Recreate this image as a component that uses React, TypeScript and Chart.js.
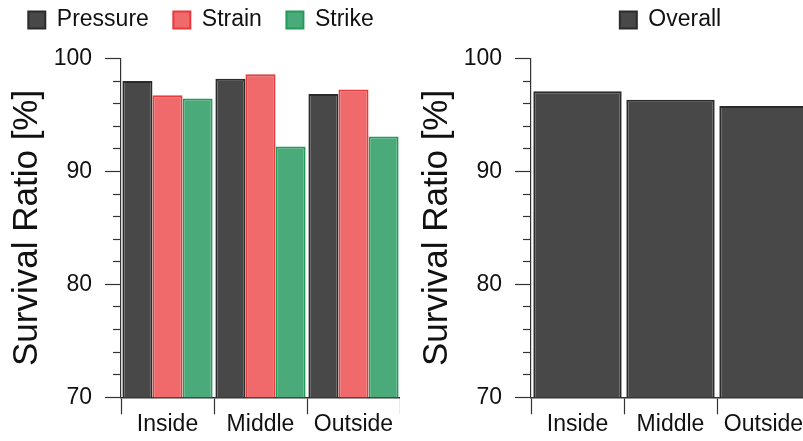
import React, { useEffect, useRef } from 'react';
import { Chart, registerables } from 'chart.js';

Chart.register(...registerables);

const categories = ['Inside', 'Middle', 'Outside'];
const pressure = [98.0, 98.2, 96.85];
const strain = [96.75, 98.6, 97.25];
const strike = [96.45, 92.2, 93.1];
const overall = [97.1, 96.35, 95.8];
const yMajorTicks = [70, 80, 90, 100];
const yMin = 70;
const yMax = 100;
const yStep = 2;
const yTitle = 'Survival Ratio [%]';

const FONT = "'Liberation Sans', Arial, Helvetica, sans-serif";
const AXIS = '#333333';
const TEXT = '#111111';

function buildOptions(legendFullSize: boolean): any {
  return {
    responsive: false,
    animation: false,
    events: [],
    layout: { padding: { top: -16, left: 2, right: 0, bottom: 6 } },
    plugins: {
      tooltip: { enabled: false },
      legend: {
        display: true,
        position: 'top',
        fullSize: legendFullSize,
        align: 'center',
        labels: {
          boxWidth: 17,
          boxHeight: 17,
          padding: 24.5,
          color: TEXT,
          font: { family: FONT, size: 23 },
        },
      },
    },
    scales: {
      x: {
        type: 'category',
        position: 'bottom',
        offset: true,
        grid: {
          display: true,
          drawOnChartArea: false,
          drawTicks: true,
          tickLength: 17,
          offset: true,
          color: AXIS,
          tickColor: AXIS,
          tickWidth: 1.2,
        },
        border: { display: true, color: AXIS, width: 1.5 },
        ticks: {
          color: TEXT,
          padding: 0,
          font: { family: FONT, size: 23, lineHeight: 0.9 },
          maxRotation: 0,
          autoSkip: false,
        },
      },
      xTop: {
        type: 'category',
        position: 'top',
        display: true,
        grid: { display: false, drawTicks: false },
        border: { display: false },
        ticks: { display: false },
        afterFit: (s: any) => {
          s.height = 17;
        },
      },
      y: {
        type: 'linear',
        position: 'left',
        min: yMin,
        max: yMax,
        afterFit: (s: any) => {
          s.width = 119;
        },
        grid: {
          display: true,
          drawOnChartArea: false,
          drawTicks: true,
          tickLength: 16,
          color: AXIS,
          tickColor: AXIS,
          tickWidth: 1.2,
          tickBorderDash: (ctx: any) =>
            ctx.tick && yMajorTicks.includes(ctx.tick.value) ? [] : [8, 8],
          tickBorderDashOffset: (ctx: any) =>
            ctx.tick && yMajorTicks.includes(ctx.tick.value) ? 0 : 8,
        },
        border: { display: true, color: AXIS, width: 1.2 },
        ticks: {
          stepSize: yStep,
          autoSkip: false,
          color: TEXT,
          padding: 13,
          font: { family: FONT, size: 23 },
          callback: (v: any) => (yMajorTicks.includes(Number(v)) ? String(v) : ''),
        },
        title: {
          display: true,
          text: yTitle,
          color: TEXT,
          font: { family: FONT, size: 35 },
          padding: { top: 4, bottom: 4 },
        },
      },
    },
  };
}

function useChart(ref: React.RefObject<HTMLCanvasElement | null>, config: () => any) {
  useEffect(() => {
    if (!ref.current) return;
    const chart = new Chart(ref.current, config());
    return () => chart.destroy();
  }, []);
}

export default function App() {
  const leftRef = useRef<HTMLCanvasElement>(null);
  const rightRef = useRef<HTMLCanvasElement>(null);

  useChart(leftRef, () => ({
    type: 'bar',
    data: {
      labels: categories,
      datasets: [
        {
          label: 'Pressure',
          data: pressure,
          backgroundColor: '#484848',
          borderColor: '#2b2b2b',
          borderWidth: 2,
          borderSkipped: false,
          categoryPercentage: 0.97,
          barPercentage: 1.0,
        },
        {
          label: 'Strain',
          data: strain,
          backgroundColor: '#f0696b',
          borderColor: '#e8393d',
          borderWidth: 2,
          borderSkipped: false,
          categoryPercentage: 0.97,
          barPercentage: 1.0,
        },
        {
          label: 'Strike',
          data: strike,
          backgroundColor: '#4aaa79',
          borderColor: '#229a5a',
          borderWidth: 2,
          borderSkipped: false,
          categoryPercentage: 0.97,
          barPercentage: 1.0,
        },
      ],
    },
    options: buildOptions(true),
  }));

  useChart(rightRef, () => ({
    type: 'bar',
    data: {
      labels: categories,
      datasets: [
        {
          label: 'Overall',
          data: overall,
          backgroundColor: '#484848',
          borderColor: '#2b2b2b',
          borderWidth: 2,
          borderSkipped: false,
          categoryPercentage: 0.95,
          barPercentage: 1.0,
        },
      ],
    },
    options: buildOptions(false),
  }));

  return (
    <div
      style={{
        position: 'fixed',
        left: 0,
        top: 0,
        width: 803,
        height: 441,
        overflow: 'hidden',
        background: '#ffffff',
      }}
    >
      <canvas
        ref={leftRef}
        width={400}
        height={441}
        style={{ position: 'absolute', left: 0, top: 0, width: 400, height: 441 }}
      />
      <canvas
        ref={rightRef}
        width={400}
        height={441}
        style={{ position: 'absolute', left: 410, top: 0, width: 400, height: 441 }}
      />
    </div>
  );
}
